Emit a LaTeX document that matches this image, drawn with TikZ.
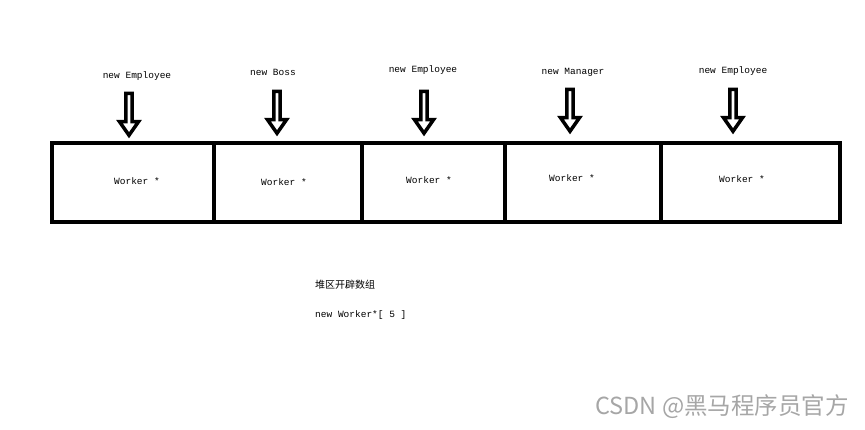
\documentclass[tikz,border=0pt]{standalone}
\usepackage{fontspec}
\setmonofont{Liberation Mono}
\newfontfamily\cjk{Noto Sans CJK SC}
\usetikzlibrary{shapes.arrows}
\begin{document}
\begin{tikzpicture}[x=1pt,y=-1pt,
  lbl/.style={font=\ttfamily\fontsize{9.5}{10}\selectfont,inner sep=0},
  darr/.style={single arrow,draw,line width=3.5pt,fill=white,shape border rotate=270,minimum height=42pt,minimum width=19pt,single arrow head extend=3.5pt,inner sep=0,single arrow head indent=0pt,single arrow tip angle=70}]
\useasboundingbox (0,0) rectangle (865,429);
\draw[line width=4pt] (52,143) rectangle (840,222);
\foreach \x in {214,362,505,661}{\draw[line width=4pt] (\x,143) -- (\x,222);}
\node[lbl] (w1) at (137,181) {Worker *};
\node[lbl] (w2) at (284,182) {Worker *};
\node[lbl] (w3) at (429,180) {Worker *};
\node[lbl] (w4) at (572,178) {Worker *};
\node[lbl] (w5) at (742,179) {Worker *};
\node[lbl] (l1) at (137,76) {new Employee};
\node[lbl] (l2) at (273,72) {new Boss};
\node[lbl] (l3) at (423,70) {new Employee};
\node[lbl] (l4) at (573,72) {new Manager};
\node[lbl] (l5) at (733,71) {new Employee};
\node[darr] (a1) at (129,112) {};
\node[darr] (a2) at (277,110) {};
\node[darr] (a3) at (424,110) {};
\node[darr] (a4) at (570,108) {};
\node[darr] (a5) at (733,108) {};
\node[inner sep=0,font=\cjk\fontsize{10}{12}\selectfont,anchor=west] (t1) at (315,285) {堆区开辟数组};
\node[lbl,anchor=west] (t2) at (315,315) {new Worker*[ 5 ]};
\node[inner sep=0,text=gray!70,font=\cjk\fontsize{23.5}{26}\selectfont,anchor=east] (wm) at (849,407) {CSDN @黑马程序员官方};
\end{tikzpicture}
\end{document}
